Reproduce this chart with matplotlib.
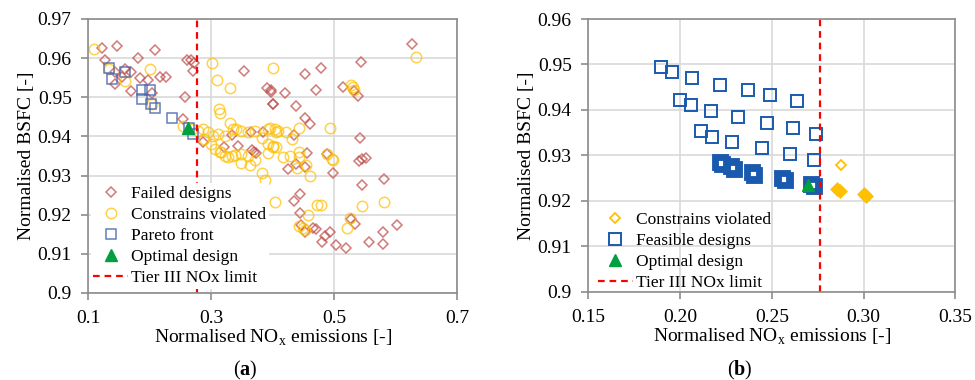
import matplotlib
matplotlib.use('Agg')
import matplotlib.pyplot as plt
from matplotlib.ticker import FuncFormatter, FormatStrFormatter, MultipleLocator

plt.rcParams['font.family'] = 'Liberation Serif'
plt.rcParams['mathtext.fontset'] = 'custom'
plt.rcParams['mathtext.rm'] = 'Liberation Serif'
plt.rcParams['mathtext.bf'] = 'Liberation Serif:bold'

# ---------------- data, panel (a) ----------------
NOX_LIMIT = 0.276

fail_x = [0.122, 0.146, 0.208, 0.127, 0.180, 0.260, 0.267, 0.272, 0.270, 0.143, 0.159, 0.170,
          0.154, 0.184, 0.197, 0.216, 0.227, 0.144, 0.169, 0.203, 0.258, 0.353, 0.390, 0.397,
          0.401, 0.254, 0.287, 0.333, 0.364, 0.321, 0.343, 0.366, 0.370, 0.373, 0.385,
          0.626, 0.543, 0.453, 0.479, 0.470, 0.514, 0.532, 0.538, 0.398, 0.420, 0.401, 0.438,
          0.453, 0.461, 0.434, 0.542, 0.456, 0.489, 0.541, 0.546, 0.551, 0.425, 0.438, 0.453,
          0.498, 0.546, 0.581, 0.434, 0.444, 0.444, 0.446, 0.453, 0.466, 0.470, 0.480, 0.485,
          0.493, 0.503, 0.520, 0.527, 0.534, 0.556, 0.579, 0.579, 0.603]
fail_y = [0.9625, 0.9630, 0.9621, 0.9594, 0.9600, 0.9594, 0.9596, 0.9588, 0.9568, 0.9564, 0.9572, 0.9564,
          0.9551, 0.9548, 0.9544, 0.9551, 0.9551, 0.9534, 0.9517, 0.9511, 0.9500, 0.9568, 0.9523, 0.9519,
          0.9483, 0.9444, 0.9385, 0.9404, 0.9410, 0.9372, 0.9375, 0.9366, 0.9359, 0.9357, 0.9412,
          0.9636, 0.9589, 0.9559, 0.9574, 0.9519, 0.9525, 0.9517, 0.9504, 0.9513, 0.9511, 0.9483, 0.9477,
          0.9446, 0.9432, 0.9404, 0.9395, 0.9358, 0.9355, 0.9337, 0.9341, 0.9345, 0.9316, 0.9330, 0.9323,
          0.9307, 0.9276, 0.9290, 0.9236, 0.9253, 0.9205, 0.9174, 0.9157, 0.9165, 0.9163, 0.9131, 0.9146,
          0.9157, 0.9123, 0.9114, 0.9190, 0.9176, 0.9131, 0.9157, 0.9125, 0.9174]

viol_x = [0.109, 0.133, 0.159, 0.200, 0.301, 0.310, 0.330, 0.401, 0.312, 0.314, 0.395, 0.403, 0.203, 0.254,
          0.268, 0.279, 0.287, 0.295, 0.303, 0.311, 0.322, 0.335, 0.349, 0.360, 0.371, 0.382, 0.392, 0.406,
          0.289, 0.300, 0.306, 0.314, 0.322, 0.333, 0.349, 0.360, 0.392, 0.400, 0.331, 0.340,
          0.633, 0.527, 0.530, 0.532, 0.493, 0.442, 0.409, 0.422, 0.431, 0.401, 0.406, 0.442, 0.428, 0.417,
          0.488, 0.496, 0.442, 0.454, 0.439, 0.460, 0.498, 0.403, 0.472, 0.478, 0.458, 0.546, 0.581,
          0.443, 0.449, 0.453, 0.521, 0.526, 0.382, 0.387, 0.316, 0.327, 0.338, 0.349, 0.363, 0.371, 0.392]
viol_y = [0.9622, 0.9571, 0.9542, 0.9571, 0.9588, 0.9544, 0.9523, 0.9574, 0.9470, 0.9460, 0.9421, 0.9419, 0.9483, 0.9427,
          0.9419, 0.9413, 0.9419, 0.9410, 0.9402, 0.9407, 0.9400, 0.9419, 0.9415, 0.9410, 0.9413, 0.9395, 0.9419, 0.9410,
          0.9393, 0.9381, 0.9368, 0.9359, 0.9351, 0.9351, 0.9355, 0.9351, 0.9381, 0.9372, 0.9433, 0.9420,
          0.9602, 0.9531, 0.9525, 0.9519, 0.9421, 0.9421, 0.9415, 0.9410, 0.9393, 0.9376, 0.9372, 0.9359, 0.9351, 0.9347,
          0.9355, 0.9342, 0.9348, 0.9327, 0.9318, 0.9299, 0.9340, 0.9233, 0.9225, 0.9225, 0.9199, 0.9221, 0.9233,
          0.9171, 0.9165, 0.9161, 0.9165, 0.9191, 0.9306, 0.9289, 0.9361, 0.9348, 0.9353, 0.9331, 0.9327, 0.9340, 0.9357]

pareto_x = [0.133, 0.138, 0.159, 0.187, 0.200, 0.188, 0.202, 0.209, 0.236, 0.263, 0.271]
pareto_y = [0.9574, 0.9546, 0.9565, 0.9519, 0.9518, 0.9496, 0.9484, 0.9472, 0.9446, 0.9422, 0.9407]

opt_a = (0.262, 0.9421)

# ---------------- data, panel (b) ----------------
feas_x = [0.1895, 0.1955, 0.2067, 0.2218, 0.2000, 0.2058, 0.2167, 0.2318, 0.2115, 0.2173, 0.2285,
          0.2372, 0.2490, 0.2636, 0.2476, 0.2614, 0.2741, 0.2445, 0.2599, 0.2732]
feas_y = [0.9494, 0.9483, 0.9470, 0.9456, 0.9421, 0.9410, 0.9397, 0.9384, 0.9353, 0.9341, 0.9329,
          0.9444, 0.9432, 0.9420, 0.9372, 0.9360, 0.9347, 0.9316, 0.9303, 0.9290]
# overlapping (clustered) feasible designs
dense_x = [0.2215, 0.2230, 0.2280, 0.2295, 0.2390, 0.2402, 0.2558, 0.2570, 0.2715, 0.2728]
dense_y = [0.9286, 0.9281, 0.9276, 0.9271, 0.9263, 0.9258, 0.9250, 0.9246, 0.9238, 0.9234]

viol_b_x = [0.2877]
viol_b_y = [0.9279]
viol_b_dense_x = [0.2855, 0.2870, 0.3000, 0.3015]
viol_b_dense_y = [0.9226, 0.9222, 0.9215, 0.9211]

opt_b = (0.2699, 0.9235)

xticks_a = [0.1, 0.3, 0.5, 0.7]

RED = '#C0504D'
YEL = '#FFC000'
BLUE_A = '#4A68B0'
BLUE_B = '#1A5AAE'
GREEN = '#00A040'

fig = plt.figure(figsize=(9.75, 3.8), dpi=100)
ax_a = fig.add_axes([0.0906, 0.229, 0.3782, 0.7211])
ax_b = fig.add_axes([0.6034, 0.2316, 0.3764, 0.7184])


def style(ax):
    ax.grid(True, color='#D9D9D9', lw=1.2)
    ax.set_axisbelow(True)
    for s in ax.spines.values():
        s.set_color('#8C8C8C')
        s.set_linewidth(1.2)
    ax.tick_params(direction='out', length=5, width=1.2, color='#8C8C8C', labelsize=14, pad=7)
    ax.yaxis.set_major_formatter(FuncFormatter(lambda v, p: '%g' % round(v, 3)))
    ax.set_ylabel('Normalised BSFC [-]', fontsize=14, labelpad=2)
    ax.set_xlabel(r'Normalised NO$_\mathregular{x}$ emissions [-]', fontsize=14, labelpad=1)


# panel (a)
ax_a.plot(fail_x, fail_y, 'D', ms=5.5, mfc='none', mec=RED, mew=1.1, alpha=0.75, label='Failed designs')
ax_a.plot(viol_x, viol_y, 'o', ms=7.5, mfc='none', mec=YEL, mew=1.1, alpha=0.7, label='Constrains violated')
ax_a.plot(pareto_x, pareto_y, 's', ms=7.5, mfc='none', mec=BLUE_A, mew=1.1, alpha=0.85, label='Pareto front')
ax_a.plot([opt_a[0]], [opt_a[1]], '^', ms=9, color=GREEN, label='Optimal design')
ax_a.axvline(NOX_LIMIT, color='#FF0000', ls=(0, (3, 2.2)), lw=1.6, label='Tier III NOx limit')
ax_a.set_xlim(0.1, 0.7)
ax_a.set_ylim(0.9, 0.97)
ax_a.set_xticks(xticks_a)
ax_a.yaxis.set_major_locator(MultipleLocator(0.01))
ax_a.xaxis.set_major_formatter(FuncFormatter(lambda v, p: '%g' % round(v, 3)))
style(ax_a)
ax_a.legend(loc='upper left', bbox_to_anchor=(0.006, 0.40), fontsize=12.5, frameon=True,
            fancybox=False, edgecolor='none', facecolor='white', framealpha=1,
            handlelength=2.0, handletextpad=0.2, labelspacing=0.28, borderpad=0.15, borderaxespad=0)

# panel (b)
ax_b.plot(viol_b_x, viol_b_y, 'D', ms=5.5, mfc='none', mec=YEL, mew=1.3, label='Constrains violated')
ax_b.plot(viol_b_dense_x, viol_b_dense_y, 'D', ms=5.5, mfc=YEL, mec=YEL, mew=2.5, label='_nolegend_')
ax_b.plot(feas_x, feas_y, 's', ms=8, mfc='none', mec=BLUE_B, mew=1.4, label='Feasible designs')
ax_b.plot(dense_x, dense_y, 's', ms=8, mfc='none', mec=BLUE_B, mew=3.5, label='_nolegend_')
ax_b.plot([opt_b[0]], [opt_b[1]], '^', ms=9, color=GREEN, label='Optimal design')
ax_b.axvline(NOX_LIMIT, color='#FF0000', ls=(0, (3, 2.2)), lw=1.6, label='Tier III NOx limit')
ax_b.set_xlim(0.15, 0.35)
ax_b.set_ylim(0.9, 0.96)
ax_b.xaxis.set_major_locator(MultipleLocator(0.05))
ax_b.yaxis.set_major_locator(MultipleLocator(0.01))
ax_b.xaxis.set_major_formatter(FormatStrFormatter('%.2f'))
style(ax_b)
ax_b.legend(loc='upper left', bbox_to_anchor=(0.019, 0.303), fontsize=12.5, frameon=False,
            handlelength=2.0, handletextpad=0.2, labelspacing=0.28, borderpad=0.15, borderaxespad=0)

fig.text(245 / 975, 1 - 370 / 380, r'($\mathbf{a}$)', ha='center', va='center', fontsize=14.5)
fig.text(740 / 975, 1 - 370 / 380, r'($\mathbf{b}$)', ha='center', va='center', fontsize=14.5)

fig.savefig('out.png', dpi=100)
